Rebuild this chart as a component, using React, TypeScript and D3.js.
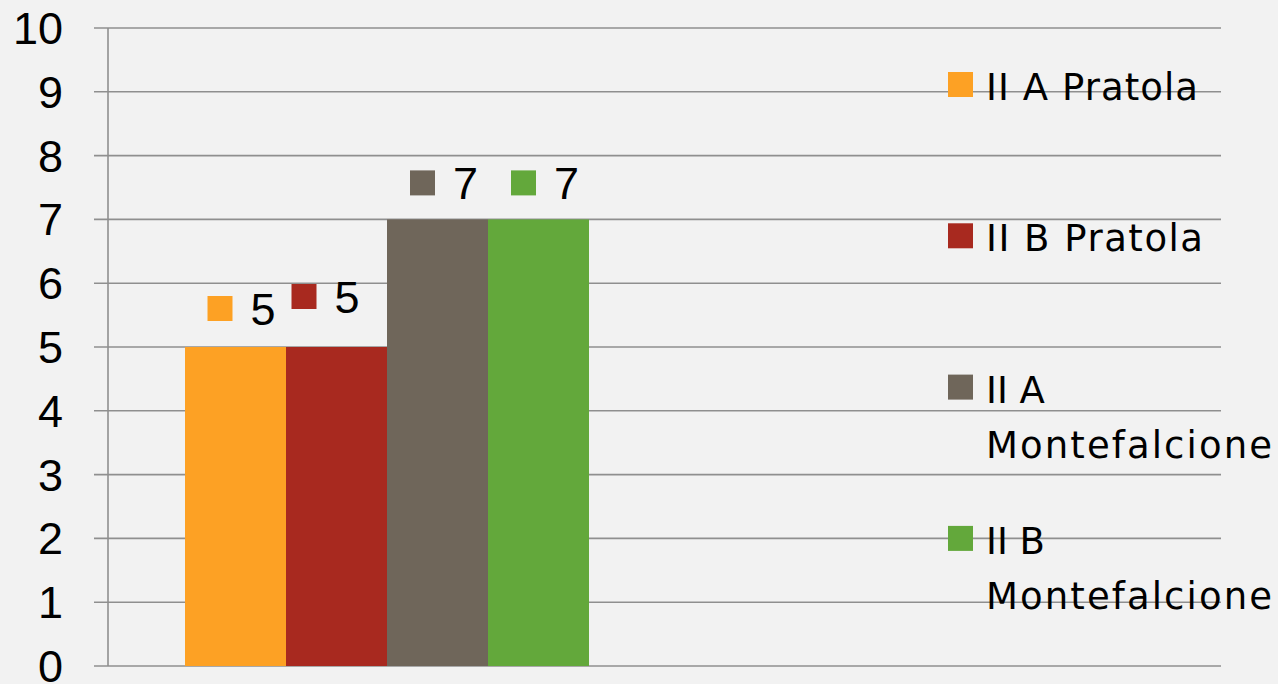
import React from "react";
import * as d3 from "d3";

const categories = [""];
const seriesNames = ["II A Pratola", "II B Pratola", "II A Montefalcione", "II B Montefalcione"];
const seriesValues = [5, 5, 7, 7];
const seriesColors = ["#FDA124", "#A8291F", "#6F665A", "#63A83B"];
const yTicks = [0, 1, 2, 3, 4, 5, 6, 7, 8, 9, 10];
const legendLines = [["II A Pratola"], ["II B Pratola"], ["II A", "Montefalcione"], ["II B", "Montefalcione"]];

const W = 1278;
const H = 684;
const axisX = 108;
const gridLeft = 94;
const gridRight = 1221;
const catRight = 666;

// per-series data-label nudges (style only)
const labelNudge = [
  { sq: -28, dy: -22 },
  { sq: -45, dy: -34 },
  { sq: -27.5, dy: -20 },
  { sq: -27.5, dy: -20 },
];

const legendWidths: Record<string, number> = {
  "II A Pratola": 212,
  "II B Pratola": 217,
  Montefalcione: 286,
};

export default function App() {
  const y = d3.scaleLinear().domain([0, 10]).range([666, 28]);
  const x0 = d3
    .scaleBand<string>()
    .domain(categories)
    .range([axisX, catRight])
    .paddingInner(0)
    .paddingOuter(77 / 404);
  const x1 = d3.scaleBand<string>().domain(seriesNames).range([0, x0.bandwidth()]);

  const numFont = "'Liberation Sans', Arial, sans-serif";
  const legFont = "'DejaVu Sans', sans-serif";

  return (
    <svg
      width={W}
      height={H}
      style={{ position: "fixed", left: 0, top: 0, display: "block" }}
    >
      <rect x={0} y={0} width={W} height={H} fill="#f2f2f2" />
      {yTicks.map((t) => (
        <line
          key={"g" + t}
          x1={gridLeft}
          x2={gridRight}
          y1={y(t)}
          y2={y(t)}
          stroke="#8f8f8f"
          strokeWidth={1.6}
        />
      ))}
      <line x1={axisX} x2={axisX} y1={y(10)} y2={y(0)} stroke="#8f8f8f" strokeWidth={1.6} />
      {yTicks.map((t) => (
        <text
          key={"t" + t}
          x={63}
          y={y(t)}
          dy="0.355em"
          textAnchor="end"
          fontFamily={numFont}
          fontSize={45}
          fill="#000"
        >
          {t}
        </text>
      ))}
      {categories.map((c) => (
        <g key={c} transform={`translate(${x0(c)},0)`}>
          {seriesNames.map((s, i) => (
            <rect
              key={s}
              x={x1(s)}
              y={y(seriesValues[i])}
              width={x1.bandwidth()}
              height={y(0) - y(seriesValues[i])}
              fill={seriesColors[i]}
            />
          ))}
          {seriesNames.map((s, i) => {
            const cx = (x1(s) as number) + x1.bandwidth() / 2;
            const top = y(seriesValues[i]);
            const n = labelNudge[i];
            return (
              <g key={"l" + s}>
                <rect x={cx + n.sq} y={top + n.dy - 29} width={25} height={25} fill={seriesColors[i]} />
                <text
                  x={cx + n.sq + 43}
                  y={top + n.dy}
                  fontFamily={numFont}
                  fontSize={45}
                  fill="#000"
                >
                  {seriesValues[i]}
                </text>
              </g>
            );
          })}
        </g>
      ))}
      {legendLines.map((lines, i) => {
        const base = 100 + i * 151.3;
        return (
          <g key={"leg" + i}>
            <rect x={948} y={base - 28} width={25} height={25} fill={seriesColors[i]} />
            {lines.map((ln, j) => (
              <text
                key={j}
                x={986}
                y={base + j * 55}
                fontFamily={legFont}
                fontSize={37}
                fill="#000"
                textLength={legendWidths[ln]}
                lengthAdjust="spacing"
              >
                {ln}
              </text>
            ))}
          </g>
        );
      })}
    </svg>
  );
}
